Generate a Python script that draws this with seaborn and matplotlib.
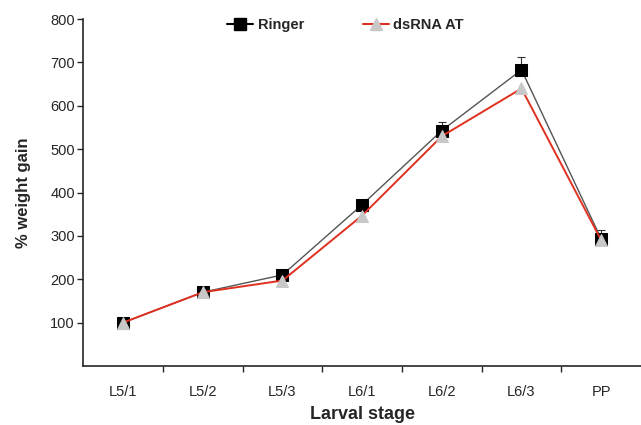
import numpy as np
import pandas as pd
import matplotlib
matplotlib.use("Agg")
import matplotlib.pyplot as plt
import seaborn as sns
from matplotlib.lines import Line2D

stages = ["L5/1", "L5/2", "L5/3", "L6/1", "L6/2", "L6/3", "PP"]
ringer = [100, 170, 210, 372, 543, 683, 293]
ringer_err = [5, 6, 6, 8, 20, 30, 20]
dsrna = [100, 170, 197, 347, 530, 640, 290]

sns.set_style("ticks")
plt.rcParams["font.family"] = ["Liberation Sans", "DejaVu Sans"]

df = pd.DataFrame({
    "stage": stages * 2,
    "gain": ringer + dsrna,
    "group": ["Ringer"] * len(stages) + ["dsRNA AT"] * len(stages),
})

fig = plt.figure(figsize=(6.41, 4.25), dpi=100)
ax = fig.add_axes([0.13, 0.139, 0.87, 0.816])

x = np.arange(len(stages))
ax.errorbar(x, ringer, yerr=[np.zeros(len(x)), ringer_err], fmt="none",
            ecolor="#333333", elinewidth=0.8, capsize=3, capthick=0.8, zorder=1)

sns.lineplot(data=df[df.group == "Ringer"], x="stage", y="gain", ax=ax,
             color="#555555", linewidth=1.0, marker="s", markersize=9,
             markerfacecolor="black", markeredgecolor="black", zorder=2)
sns.lineplot(data=df[df.group == "dsRNA AT"], x="stage", y="gain", ax=ax,
             color="#e03020", linewidth=1.4, marker="^", markersize=8,
             markerfacecolor="#c8c8c8", markeredgecolor="#c8c8c8", zorder=3)

ax.set_xlim(-0.5, len(stages) - 0.5)
ax.set_ylim(0, 800)
ax.set_yticks(range(100, 801, 100))
ax.set_xticks(x)
ax.set_xticks(x[:-1] + 0.5, minor=True)
ax.tick_params(axis="x", which="major", length=0, pad=14, labelsize=10.5)
ax.tick_params(axis="x", which="minor", length=4, width=1)
ax.tick_params(axis="y", length=4, width=1, labelsize=10.5, pad=2)
sns.despine(ax=ax)
ax.spines["left"].set_linewidth(1.2)
ax.spines["bottom"].set_linewidth(1.2)

ax.set_xlabel("Larval stage", fontsize=13, fontweight="bold", labelpad=5)
ax.set_ylabel("% weight gain", fontsize=12, fontweight="bold", labelpad=14)

handles = [
    Line2D([], [], color="black", linewidth=1.5, marker="s", markersize=8,
           markerfacecolor="black"),
    Line2D([], [], color="#e03020", linewidth=1.5, marker="^", markersize=8,
           markerfacecolor="#c8c8c8", markeredgecolor="#c8c8c8"),
]
ax.legend(handles, ["Ringer", "dsRNA AT"], loc="upper center",
          bbox_to_anchor=(0.47, 1.04), ncol=2, frameon=False,
          handlelength=1.8, handletextpad=0.3, columnspacing=4,
          prop={"weight": "bold", "size": 10.5})

fig.savefig("out.png", dpi=100)
